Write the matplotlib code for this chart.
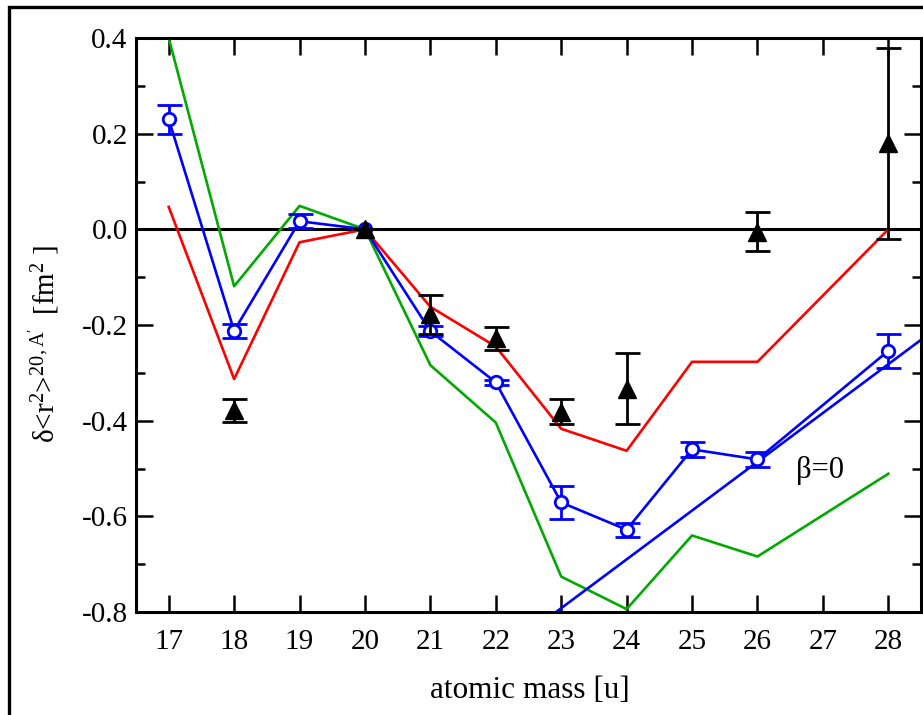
import matplotlib
matplotlib.use("Agg")
import matplotlib.pyplot as plt
from matplotlib.patches import Rectangle
from matplotlib.ticker import MultipleLocator, FuncFormatter

plt.rcParams['font.family'] = ['Liberation Serif', 'DejaVu Serif']
plt.rcParams['mathtext.fontset'] = 'custom'
plt.rcParams['mathtext.rm'] = 'Liberation Serif'
plt.rcParams['mathtext.it'] = 'Liberation Serif:italic'

# Mass numbers
mass = [17, 18, 19, 20, 21, 22, 23, 24, 25, 26, 28]

# Model curves
red_vals = [0.047, -0.313, -0.027, 0.0, -0.162, -0.245, -0.417, -0.463, -0.277, -0.277, 0.0]
green_vals = [0.40, -0.119, 0.049, 0.0, -0.284, -0.404, -0.726, -0.794, -0.640, -0.684, -0.511]

# Blue data points with uncertainties
blue_vals = [0.230, -0.212, 0.017, 0.0, -0.213, -0.320, -0.571, -0.628, -0.460, -0.481, -0.254]
blue_err = [0.030, 0.015, 0.015, 0.0, 0.010, 0.006, 0.035, 0.015, 0.015, 0.015, 0.035]

# Straight line labelled beta=0
beta0_mass = [22, 29]
beta0_vals = [-0.894, -0.180]

# Black triangle data with uncertainties
tri_mass = [18, 20, 21, 22, 23, 24, 26, 28]
tri_vals = [-0.378, 0.0, -0.178, -0.228, -0.381, -0.333, -0.005, 0.180]
tri_err = [0.024, 0.0, 0.040, 0.024, 0.026, 0.074, 0.041, 0.200]

fig = plt.figure(figsize=(9.23, 7.15), dpi=100)
W, H = 923, 715
ax = fig.add_axes([136 / W, 1 - 612 / H, (921 - 136) / W, (612 - 38) / H])

# outer frame around the whole figure
fig.patches.append(Rectangle((9 / W, -0.1), 1.2, 1.1 - 7 / H, transform=fig.transFigure,
                             fill=False, edgecolor='black', linewidth=2.4))

ax.axhline(0.0, color='black', linewidth=2.2, zorder=1)

lw = 1.9
ax.plot(mass, red_vals, color='#ff0000', linewidth=lw, zorder=2)
ax.plot(mass, green_vals, color='#00aa00', linewidth=lw, zorder=2)
ax.plot(beta0_mass, beta0_vals, color='#0000ff', linewidth=lw, zorder=2)

ax.errorbar(mass, blue_vals, yerr=blue_err, color='#0000ff', linewidth=lw,
            marker='o', markersize=9, markerfacecolor='white', markeredgewidth=2.0,
            markeredgecolor='#0000ff', capsize=9, capthick=2.0, elinewidth=2.0, zorder=3)

ax.errorbar(tri_mass, tri_vals, yerr=tri_err, color='black', linestyle='none',
            marker='^', markersize=13.5, capsize=9, capthick=2.0, elinewidth=2.0, zorder=4)

ax.text(26.95, -0.505, 'β=0', fontsize=22, ha='center', va='center')

ax.set_xlim(16.5, 28.5)
ax.set_ylim(-0.8, 0.4)
ax.xaxis.set_major_locator(MultipleLocator(1))
ax.yaxis.set_major_locator(MultipleLocator(0.2))
ax.yaxis.set_minor_locator(MultipleLocator(0.1))
ax.yaxis.set_major_formatter(FuncFormatter(lambda v, p: f'{v:.1f}'))

ax.tick_params(which='both', direction='in', top=True, right=True, width=1.8,
               labelsize=21, colors='black')
ax.tick_params(which='major', length=12)
ax.tick_params(which='minor', length=6.5)
ax.tick_params(axis='x', pad=12)
ax.tick_params(axis='y', pad=6)

for s in ax.spines.values():
    s.set_linewidth(2.2)

fig.text(530 / W, 1 - 690 / H, 'atomic mass [u]', fontsize=22.5, ha='center', va='center')
fig.text(44 / W, 1 - 344 / H,
         r"δ<r$^{\mathrm{2}}$>$^{\mathrm{20,A'}}$$\;$ [fm$^{\mathrm{2}}$ ]",
         fontsize=21, rotation=90, ha='center', va='center')

fig.savefig('out.png', dpi=100)
